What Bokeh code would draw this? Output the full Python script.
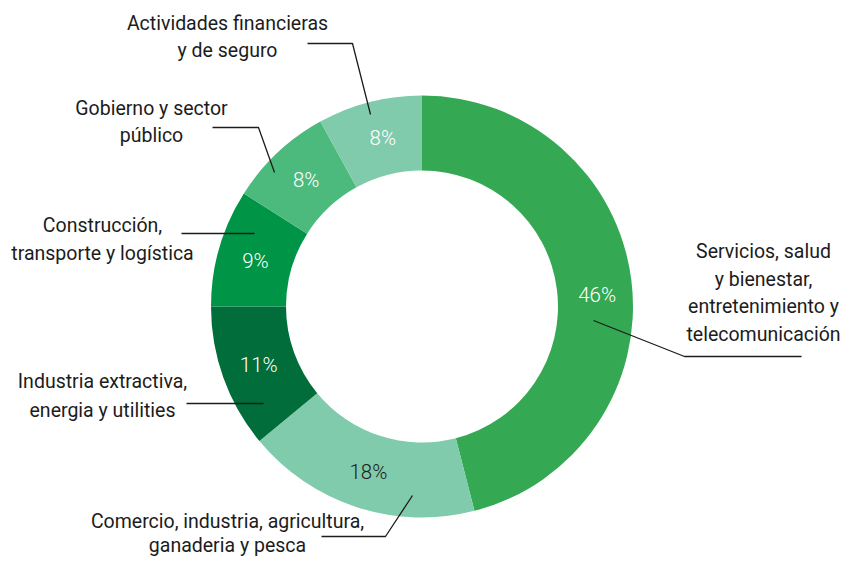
import math
from bokeh.plotting import figure
from bokeh.models import ColumnDataSource, Range1d
from bokeh.core.properties import value
from bokeh.embed import file_html
from bokeh.resources import INLINE

# ---- data ----
categories = [
    "Servicios, salud\ny bienestar,\nentretenimiento y\ntelecomunicación",
    "Comercio, industria, agricultura,\nganaderia y pesca",
    "Industria extractiva,\nenergia y utilities",
    "Construcción,\ntransporte y logística",
    "Gobierno y sector\npúblico",
    "Actividades financieras\ny de seguro",
]
shares = [46, 18, 11, 9, 8, 8]
pct_labels = ["46%", "18%", "11%", "9%", "8%", "8%"]

# ---- style / layout ----
colors = ["#34a853", "#80cbab", "#006d3a", "#009447", "#4cba7d", "#80cbab"]
pct_colors = ["white", "#1c1c1c", "white", "white", "white", "white"]
FONT = "Roboto"
PCT_FONT = "Roboto Light, Roboto"
W, H = 843, 561


def Y(yi):
    return H - yi


cx, cy = 421.5, Y(306)
r_in, r_out = 136, 211
r_lab = (r_in + r_out) / 2
pct_nudge = [(3, -10), (0, 0), (0, 0), (0, -3), (3, 0), (4, 0)]

# label anchor (center x, first line center y in px), line spacing
label_anchor = [(763, 251), (227, 521), (102, 381), (102, 225), (151, 108), (227, 23)]
line_gaps = [27.5, 24, 28.5, 28, 27, 27]

# leader lines in px
leaders = [
    [(801, 356), (684, 356), (593, 320)],
    [(321, 536), (385, 536), (412, 495)],
    [(186, 403), (263, 403)],
    [(181, 233), (254, 233)],
    [(212, 127), (258, 127), (274, 172)],
    [(307, 43), (352, 43), (370, 114)],
]

total = float(sum(shares))
starts, ends, px, py = [], [], [], []
acc = 0.0
for i, v in enumerate(shares):
    a0 = math.pi / 2 - 2 * math.pi * acc / total
    a1 = math.pi / 2 - 2 * math.pi * (acc + v) / total
    mid = (a0 + a1) / 2
    starts.append(a0)
    ends.append(a1)
    px.append(cx + r_lab * math.cos(mid) + pct_nudge[i][0])
    py.append(cy + r_lab * math.sin(mid) + pct_nudge[i][1])
    acc += v

src = ColumnDataSource(dict(start=starts, end=ends, color=colors,
                            x=[cx] * len(shares), y=[cy] * len(shares)))

p = figure(width=W, height=H, x_range=Range1d(0, W), y_range=Range1d(0, H),
           output_backend="svg", toolbar_location=None, min_border=0,
           x_axis_type=None, y_axis_type=None)
p.grid.visible = False
p.outline_line_color = None
p.background_fill_color = "white"
p.border_fill_color = "white"

p.annular_wedge(x="x", y="y", inner_radius=r_in, outer_radius=r_out,
                start_angle="start", end_angle="end", direction="clock",
                fill_color="color", line_color=None, source=src)

# leader lines
for pts in leaders:
    p.line([q[0] for q in pts], [Y(q[1]) for q in pts], line_color="#1c1c1c", line_width=1.3)

# percentage labels
psrc = ColumnDataSource(dict(x=px, y=py, t=pct_labels, c=pct_colors))
p.text(x="x", y="y", text="t", text_color="c", source=psrc,
       text_font=value(PCT_FONT), text_font_size="20.5px",
       text_align="center", text_baseline="middle")

# category labels
lx, ly, lt = [], [], []
for cat, (ax, ay), gap in zip(categories, label_anchor, line_gaps):
    for j, line in enumerate(cat.split("\n")):
        lx.append(ax)
        ly.append(Y(ay + j * gap))
        lt.append(line)
lsrc = ColumnDataSource(dict(x=lx, y=ly, t=lt))
p.text(x="x", y="y", text="t", source=lsrc, text_color="#1c1c1c",
       text_font=value(FONT), text_font_size="19.5px",
       text_align="center", text_baseline="middle")

open("out.html", "w").write(file_html(p, INLINE))
